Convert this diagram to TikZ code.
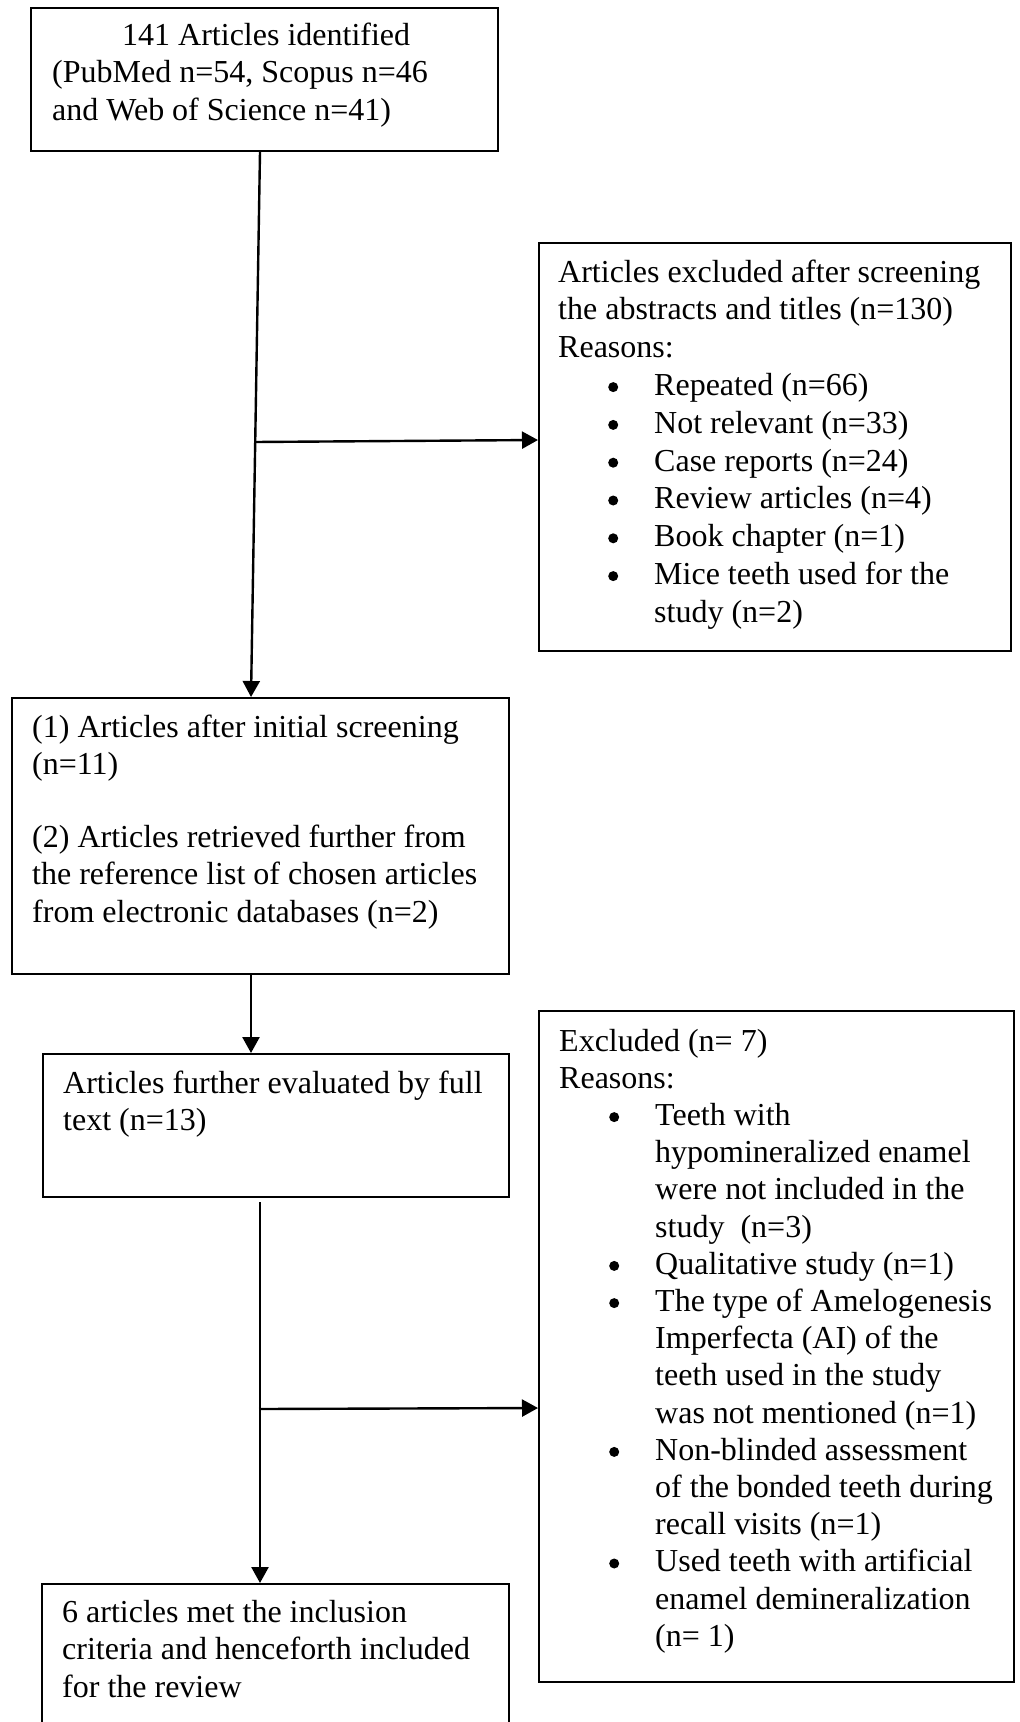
\documentclass[tikz,border=0pt]{standalone}
\usepackage{fontspec}
\setmainfont{Liberation Serif}
\usetikzlibrary{arrows.meta,calc}
\newcommand\bigbul{\makebox[0pt]{\raisebox{3.3pt}{\tikz\fill[black] (0,0) circle[radius=5pt];}}}
\newcommand\blt[1]{\hspace*{55pt}\bigbul\hspace*{41pt}#1}
\newcommand\cnt[1]{\hspace*{96pt}#1}
\begin{document}
\begin{tikzpicture}[x=1pt,y=-1pt,
  box/.style={draw=black, line width=2pt, inner sep=0pt, anchor=north west},
  txt/.style={inner sep=0pt, anchor=base west, font=\fontsize{32}{37.5}\selectfont},
  arr/.style={line width=2.4pt, -{Triangle[length=16pt,width=17pt]}}]
\clip (0,0) rectangle (1020,1722);
% boxes
\node[box, minimum width=467pt, minimum height=143pt] (b1) at (30,7) {};
\node[box, minimum width=472pt, minimum height=408pt] (b2) at (538,242) {};
\node[box, minimum width=497pt, minimum height=276pt] (b3) at (11,697) {};
\node[box, minimum width=466pt, minimum height=143pt] (b4) at (42,1053) {};
\node[box, minimum width=475pt, minimum height=671pt] (b5) at (538,1010) {};
\node[box, minimum width=467pt, minimum height=170pt] (b6) at (41,1583) {};
% texts
\node[txt] (t1) at (52,45) {\parbox[t]{460pt}{\raggedright\hspace*{70pt}141 Articles identified\\(PubMed n=54, Scopus n=46\\and Web of Science n=41)}};
\node[txt, font=\fontsize{32}{37.8}\selectfont] (t2) at (558,282) {\parbox[t]{460pt}{\raggedright Articles excluded after screening\\the abstracts and titles (n=130)\\Reasons:\\\blt{Repeated (n=66)}\\\blt{Not relevant (n=33)}\\\blt{Case reports (n=24)}\\\blt{Review articles (n=4)}\\\blt{Book chapter (n=1)}\\\blt{Mice teeth used for the}\\\cnt{study (n=2)}}};
\node[txt] (t3) at (32,737) {\parbox[t]{480pt}{\raggedright (1) Articles after initial screening\\(n=11)\\[35pt](2) Articles retrieved further from\\the reference list of chosen articles\\from electronic databases (n=2)}};
\node[txt, font=\fontsize{32}{37}\selectfont] (t4) at (63,1093) {\parbox[t]{460pt}{\raggedright Articles further evaluated by full\\text (n=13)}};
\node[txt, font=\fontsize{32}{37.2}\selectfont] (t5) at (559,1051) {\parbox[t]{460pt}{\raggedright Excluded (n= 7)\\Reasons:\\\blt{Teeth with}\\\cnt{hypomineralized enamel}\\\cnt{were not included in the}\\\cnt{study\ \ (n=3)}\\\blt{Qualitative study (n=1)}\\\blt{The type of Amelogenesis}\\\cnt{Imperfecta (AI) of the}\\\cnt{teeth used in the study}\\\cnt{was not mentioned (n=1)}\\\blt{Non-blinded assessment}\\\cnt{of the bonded teeth during}\\\cnt{recall visits (n=1)}\\\blt{Used teeth with artificial}\\\cnt{enamel demineralization}\\\cnt{(n= 1)}}};
\node[txt] (t6) at (62,1622) {\parbox[t]{460pt}{\raggedright 6 articles met the inclusion\\criteria and henceforth included\\for the review}};
% connectors
\draw[arr] ([xshift=-4.5pt]b1.south) -- ([xshift=-9.5pt]b3.north);
\coordinate (j1) at (254.2,442);
\draw[arr] (j1) -- ([yshift=7pt]b2.west);
\draw[arr] ([xshift=-9.5pt]b3.south) -- ([xshift=-25pt]b4.north);
\draw[arr] ([xshift=-16pt,yshift=-4pt]b4.south) -- ([xshift=-15.5pt]b6.north);
\coordinate (j2) at (259,1409);
\draw[arr] (j2) -- ([yshift=-61.5pt]b5.west);
\end{tikzpicture}
\end{document}
